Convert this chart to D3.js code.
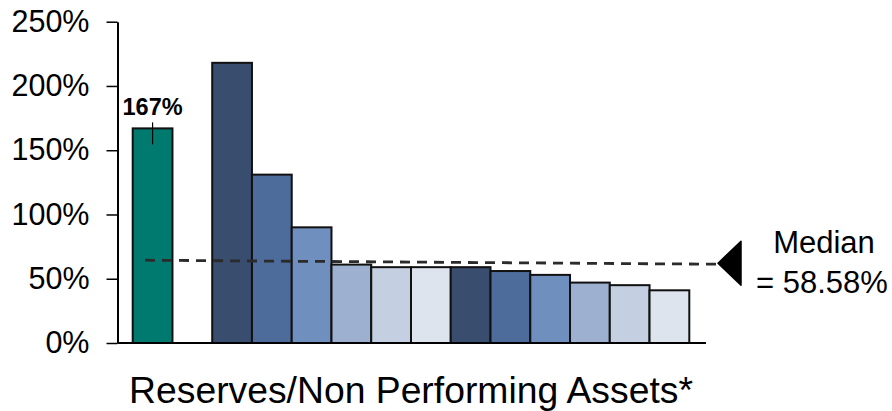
<!DOCTYPE html>
<html>
<head>
<meta charset="utf-8">
<script src="https://cdn.jsdelivr.net/npm/d3@7"></script>
<style>
  html, body { margin: 0; padding: 0; background: #fff; }
  svg { display: block; font-family: "Liberation Sans", Arial, sans-serif; }
</style>
</head>
<body>
<svg id="chart" width="892" height="411"></svg>
<script>
// Reserves / non performing assets by institution (first bar = the company, rest = peers)
const categories = ["Company", "spacer", "Peer 1", "Peer 2", "Peer 3", "Peer 4", "Peer 5", "Peer 6",
                    "Peer 7", "Peer 8", "Peer 9", "Peer 10", "Peer 11", "Peer 12"];
const values = [167, null, 218, 131, 90, 61, 59, 59, 59, 56, 53, 47, 45, 41];
const barColors = ["#007A6E", null, "#394D6E", "#4E6C9B", "#6F8FBE", "#9DB0CF", "#C4D0E2", "#DEE4EE",
                   "#394D6E", "#4E6C9B", "#6F8FBE", "#9DB0CF", "#C4D0E2", "#DEE4EE"];
const yTicks = [0, 50, 100, 150, 200, 250];
const highlightLabel = "167%";
const medianValue = 58.58;
const medianLines = ["Median", "= 58.58%"];
const title = "Reserves/Non Performing Assets*";

const svg = d3.select("#chart");

const y = d3.scaleLinear().domain([0, 250]).range([343, 21.7]);
const x = d3.scaleBand().domain(categories).range([132.7, 689.3]).padding(0);
const axisX = 117.5;

// y axis
const yAxis = d3.axisLeft(y)
  .tickValues(yTicks)
  .tickSize(11)
  .tickSizeOuter(0)
  .tickPadding(17)
  .tickFormat(d => d + "%");

const gy = svg.append("g").attr("transform", `translate(${axisX},0)`).call(yAxis);
gy.select(".domain").attr("stroke", "#000").attr("stroke-width", 2);
gy.selectAll(".tick line").attr("stroke", "#000").attr("stroke-width", 1.5);
gy.selectAll(".tick text")
  .attr("fill", "#000")
  .style("font-size", "30.5px")
  .style("font-family", "'Liberation Sans', Arial, sans-serif");

// bars
const data = categories.map((c, i) => ({ c, v: values[i], color: barColors[i] }))
  .filter(d => d.v !== null);

svg.append("g").selectAll("rect")
  .data(data)
  .join("rect")
  .attr("x", d => x(d.c))
  .attr("y", d => y(d.v))
  .attr("width", x.bandwidth())
  .attr("height", d => y(0) - y(d.v))
  .attr("fill", d => d.color)
  .attr("stroke", "#111")
  .attr("stroke-width", 2);

// baseline
svg.append("line")
  .attr("x1", axisX).attr("x2", 706)
  .attr("y1", y(0)).attr("y2", y(0))
  .attr("stroke", "#000").attr("stroke-width", 2);

// value label with leader for the company bar
const first = data[0];
const cx = x(first.c) + x.bandwidth() / 2;
svg.append("text")
  .attr("x", cx).attr("y", y(first.v) - 13)
  .attr("text-anchor", "middle")
  .style("font-size", "23.5px").style("font-weight", "bold")
  .attr("fill", "#000")
  .text(highlightLabel);
svg.append("line")
  .attr("x1", cx).attr("x2", cx)
  .attr("y1", y(first.v) - 6).attr("y2", y(first.v) + 16)
  .attr("stroke", "#000").attr("stroke-width", 1.2);

// median reference line with pointer
const my = y(medianValue);
svg.append("line")
  .attr("x1", 145).attr("x2", 716)
  .attr("y1", my - 7.5).attr("y2", my - 3.5)
  .attr("stroke", "#2b2b2b")
  .attr("stroke-width", 2.8)
  .attr("stroke-dasharray", "10,7");

const tipX = 718, tipY = my - 4.5;
svg.append("path")
  .attr("d", `M${tipX},${tipY} L${tipX + 23},${tipY - 22} L${tipX + 23},${tipY + 22} Z`)
  .attr("fill", "#000")
  .attr("stroke", "#000")
  .attr("stroke-width", 1.5)
  .attr("stroke-linejoin", "round");

svg.append("g").selectAll("text")
  .data(medianLines)
  .join("text")
  .attr("x", (d, i) => i === 0 ? 824 : 822)
  .attr("y", (d, i) => i === 0 ? 253 : 293)
  .attr("text-anchor", "middle")
  .style("font-size", "31px")
  .attr("fill", "#000")
  .text(d => d);

// axis title
svg.append("text")
  .attr("x", 411).attr("y", 403)
  .attr("text-anchor", "middle")
  .style("font-size", "37.3px")
  .attr("fill", "#000")
  .text(title);
</script>
</body>
</html>
